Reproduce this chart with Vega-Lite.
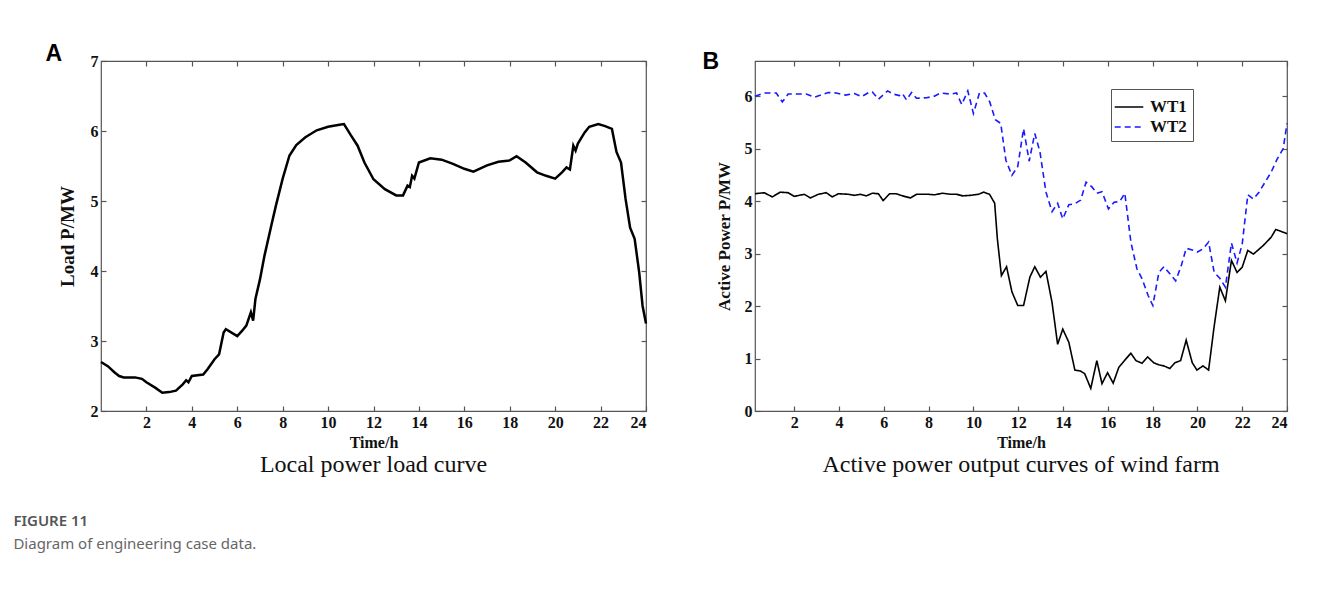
{
  "$schema": "https://vega.github.io/schema/vega-lite/v6.json",
  "background": "white",
  "padding": {"left": 13, "top": 43, "right": 5, "bottom": 5},
  "config": {
    "view": {"stroke": "#555", "strokeWidth": 1.2},
    "axis": {"grid": false, "domain": false, "tickColor": "#555", "tickSize": -5, "tickWidth": 1.2,
      "labelFont": "Liberation Serif", "labelFontSize": 16, "labelFontWeight": "bold", "labelColor": "#111", "labelPadding": 8,
      "titleFont": "Liberation Serif", "titleFontWeight": "bold", "titleColor": "#111"}
  },
  "title": {"text": "FIGURE 11", "subtitle": "Diagram of engineering case data.", "orient": "bottom", "anchor": "start", "frame": "bounds", "dx": -32, "offset": 36,
    "font": "Noto Sans", "fontSize": 15, "fontWeight": 600, "color": "#555", "subtitleFont": "Noto Sans", "subtitleFontSize": 15, "subtitleColor": "#666", "subtitlePadding": 8},
  "spacing": 50,
  "hconcat": [
    {
      "title": {"text": "A", "orient": "top", "anchor": "start", "frame": "bounds", "dx": -12, "offset": -14, "font": "Liberation Sans", "fontSize": 23, "fontWeight": "bold", "color": "#000"},
      "vconcat": [
        {
          "title": {"text": "Local power load curve", "orient": "bottom", "anchor": "middle", "frame": "group", "font": "Liberation Serif", "fontSize": 24, "fontWeight": "normal", "color": "#111", "offset": 3},
          "width": 545,
          "height": 350,
          "data": {"values": [
            {"t": 0, "p": 2.70}, {"t": 0.3, "p": 2.64}, {"t": 0.6, "p": 2.55}, {"t": 0.8, "p": 2.50}, {"t": 1.0, "p": 2.48},
            {"t": 1.5, "p": 2.48}, {"t": 1.8, "p": 2.46}, {"t": 2.0, "p": 2.41}, {"t": 2.4, "p": 2.33}, {"t": 2.7, "p": 2.26},
            {"t": 3.0, "p": 2.27}, {"t": 3.3, "p": 2.29}, {"t": 3.6, "p": 2.38}, {"t": 3.75, "p": 2.44}, {"t": 3.85, "p": 2.41},
            {"t": 4.0, "p": 2.50}, {"t": 4.5, "p": 2.52}, {"t": 4.7, "p": 2.60}, {"t": 5.0, "p": 2.74}, {"t": 5.2, "p": 2.81},
            {"t": 5.4, "p": 3.12}, {"t": 5.5, "p": 3.17}, {"t": 6.0, "p": 3.07}, {"t": 6.2, "p": 3.14}, {"t": 6.4, "p": 3.22},
            {"t": 6.6, "p": 3.41}, {"t": 6.7, "p": 3.29}, {"t": 6.8, "p": 3.60}, {"t": 7.0, "p": 3.88}, {"t": 7.2, "p": 4.22},
            {"t": 7.5, "p": 4.65}, {"t": 7.7, "p": 4.93}, {"t": 8.0, "p": 5.32}, {"t": 8.3, "p": 5.65}, {"t": 8.6, "p": 5.80},
            {"t": 9.0, "p": 5.91}, {"t": 9.5, "p": 6.01}, {"t": 10.0, "p": 6.06}, {"t": 10.5, "p": 6.09}, {"t": 10.7, "p": 6.10},
            {"t": 11.0, "p": 5.94}, {"t": 11.3, "p": 5.79}, {"t": 11.6, "p": 5.55}, {"t": 12.0, "p": 5.31}, {"t": 12.5, "p": 5.17},
            {"t": 13.0, "p": 5.08}, {"t": 13.3, "p": 5.08}, {"t": 13.5, "p": 5.22}, {"t": 13.6, "p": 5.20}, {"t": 13.7, "p": 5.36},
            {"t": 13.8, "p": 5.32}, {"t": 14.0, "p": 5.55}, {"t": 14.5, "p": 5.61}, {"t": 15.0, "p": 5.59}, {"t": 15.5, "p": 5.53},
            {"t": 16.0, "p": 5.46}, {"t": 16.4, "p": 5.42}, {"t": 17.0, "p": 5.51}, {"t": 17.5, "p": 5.56}, {"t": 18.0, "p": 5.58},
            {"t": 18.3, "p": 5.64}, {"t": 18.7, "p": 5.55}, {"t": 19.2, "p": 5.41}, {"t": 19.6, "p": 5.36}, {"t": 20.0, "p": 5.32},
            {"t": 20.3, "p": 5.41}, {"t": 20.5, "p": 5.48}, {"t": 20.65, "p": 5.45}, {"t": 20.8, "p": 5.79}, {"t": 20.9, "p": 5.72},
            {"t": 21.0, "p": 5.82}, {"t": 21.3, "p": 5.98}, {"t": 21.5, "p": 6.06}, {"t": 21.9, "p": 6.10}, {"t": 22.2, "p": 6.07},
            {"t": 22.5, "p": 6.03}, {"t": 22.7, "p": 5.70}, {"t": 22.9, "p": 5.55}, {"t": 23.1, "p": 5.03}, {"t": 23.3, "p": 4.62},
            {"t": 23.5, "p": 4.46}, {"t": 23.7, "p": 3.98}, {"t": 23.85, "p": 3.50}, {"t": 24.0, "p": 3.25}
          ]},
          "layer": [
            {
              "mark": {"type": "line", "color": "#000", "strokeWidth": 2.5},
              "encoding": {
                "x": {"field": "t", "type": "quantitative", "scale": {"domain": [0, 24], "nice": false},
                  "axis": {"values": [2, 4, 6, 8, 10, 12, 14, 16, 18, 20, 22, 24], "title": "Time/h", "titleFontSize": 16, "titlePadding": 4}},
                "y": {"field": "p", "type": "quantitative", "scale": {"domain": [2, 7], "nice": false},
                  "axis": {"values": [2, 3, 4, 5, 6, 7], "title": "Load P/MW", "titleFontSize": 19, "titlePadding": 13}}
              }
            },
            {
              "mark": {"type": "line", "opacity": 0},
              "encoding": {
                "x": {"field": "t", "type": "quantitative", "scale": {"domain": [0, 24], "nice": false},
                  "axis": {"orient": "top", "values": [2, 4, 6, 8, 10, 12, 14, 16, 18, 20, 22, 24], "labels": false, "title": null}},
                "y": {"field": "p", "type": "quantitative", "scale": {"domain": [2, 7], "nice": false},
                  "axis": {"orient": "right", "values": [2, 3, 4, 5, 6, 7], "labels": false, "title": null}}
              }
            }
          ],
          "resolve": {"axis": {"x": "independent", "y": "independent"}}
        }
      ]
    },
    {
      "title": {"text": "B", "orient": "top", "anchor": "start", "frame": "bounds", "dx": -12, "offset": -14, "font": "Liberation Sans", "fontSize": 23, "fontWeight": "bold", "color": "#000"},
      "vconcat": [
        {
          "title": {"text": "Active power output curves of wind farm", "orient": "bottom", "anchor": "middle", "frame": "group", "font": "Liberation Serif", "fontSize": 24, "fontWeight": "normal", "color": "#111", "offset": 3},
          "width": 532,
          "height": 350,
          "data": {"values": [
            {"s": "WT1", "t": 0.25, "p": 4.14}, {"s": "WT1", "t": 0.66, "p": 4.16}, {"s": "WT1", "t": 1.02, "p": 4.08}, {"s": "WT1", "t": 1.38, "p": 4.17},
            {"s": "WT1", "t": 1.73, "p": 4.16}, {"s": "WT1", "t": 2.0, "p": 4.09}, {"s": "WT1", "t": 2.45, "p": 4.13}, {"s": "WT1", "t": 2.72, "p": 4.06},
            {"s": "WT1", "t": 3.08, "p": 4.13}, {"s": "WT1", "t": 3.43, "p": 4.16}, {"s": "WT1", "t": 3.7, "p": 4.08}, {"s": "WT1", "t": 3.97, "p": 4.14},
            {"s": "WT1", "t": 4.42, "p": 4.13}, {"s": "WT1", "t": 4.69, "p": 4.11}, {"s": "WT1", "t": 4.95, "p": 4.13}, {"s": "WT1", "t": 5.22, "p": 4.10},
            {"s": "WT1", "t": 5.49, "p": 4.15}, {"s": "WT1", "t": 5.76, "p": 4.14}, {"s": "WT1", "t": 5.97, "p": 4.01}, {"s": "WT1", "t": 6.26, "p": 4.14},
            {"s": "WT1", "t": 6.56, "p": 4.14}, {"s": "WT1", "t": 6.83, "p": 4.10}, {"s": "WT1", "t": 7.19, "p": 4.06}, {"s": "WT1", "t": 7.46, "p": 4.13},
            {"s": "WT1", "t": 8.0, "p": 4.13}, {"s": "WT1", "t": 8.26, "p": 4.12}, {"s": "WT1", "t": 8.62, "p": 4.15}, {"s": "WT1", "t": 8.98, "p": 4.13},
            {"s": "WT1", "t": 9.25, "p": 4.13}, {"s": "WT1", "t": 9.52, "p": 4.10}, {"s": "WT1", "t": 9.87, "p": 4.11}, {"s": "WT1", "t": 10.23, "p": 4.13},
            {"s": "WT1", "t": 10.46, "p": 4.17}, {"s": "WT1", "t": 10.72, "p": 4.13}, {"s": "WT1", "t": 10.95, "p": 3.96}, {"s": "WT1", "t": 11.07, "p": 3.28},
            {"s": "WT1", "t": 11.25, "p": 2.58}, {"s": "WT1", "t": 11.48, "p": 2.75}, {"s": "WT1", "t": 11.72, "p": 2.27}, {"s": "WT1", "t": 11.98, "p": 2.01},
            {"s": "WT1", "t": 12.24, "p": 2.01}, {"s": "WT1", "t": 12.52, "p": 2.55}, {"s": "WT1", "t": 12.74, "p": 2.75}, {"s": "WT1", "t": 12.99, "p": 2.55},
            {"s": "WT1", "t": 13.24, "p": 2.66}, {"s": "WT1", "t": 13.51, "p": 2.07}, {"s": "WT1", "t": 13.76, "p": 1.27}, {"s": "WT1", "t": 13.99, "p": 1.56},
            {"s": "WT1", "t": 14.26, "p": 1.31}, {"s": "WT1", "t": 14.53, "p": 0.78}, {"s": "WT1", "t": 14.79, "p": 0.76}, {"s": "WT1", "t": 14.97, "p": 0.71},
            {"s": "WT1", "t": 15.24, "p": 0.43}, {"s": "WT1", "t": 15.51, "p": 0.96}, {"s": "WT1", "t": 15.74, "p": 0.52}, {"s": "WT1", "t": 15.99, "p": 0.73},
            {"s": "WT1", "t": 16.24, "p": 0.53}, {"s": "WT1", "t": 16.49, "p": 0.83}, {"s": "WT1", "t": 16.76, "p": 0.97}, {"s": "WT1", "t": 17.03, "p": 1.10},
            {"s": "WT1", "t": 17.26, "p": 0.96}, {"s": "WT1", "t": 17.53, "p": 0.91}, {"s": "WT1", "t": 17.78, "p": 1.03}, {"s": "WT1", "t": 18.05, "p": 0.92},
            {"s": "WT1", "t": 18.28, "p": 0.88}, {"s": "WT1", "t": 18.5, "p": 0.86}, {"s": "WT1", "t": 18.77, "p": 0.81}, {"s": "WT1", "t": 19.0, "p": 0.92},
            {"s": "WT1", "t": 19.25, "p": 0.96}, {"s": "WT1", "t": 19.5, "p": 1.35}, {"s": "WT1", "t": 19.77, "p": 0.92}, {"s": "WT1", "t": 19.98, "p": 0.78},
            {"s": "WT1", "t": 20.25, "p": 0.86}, {"s": "WT1", "t": 20.5, "p": 0.78}, {"s": "WT1", "t": 20.75, "p": 1.62}, {"s": "WT1", "t": 21.0, "p": 2.36},
            {"s": "WT1", "t": 21.25, "p": 2.10}, {"s": "WT1", "t": 21.52, "p": 2.87}, {"s": "WT1", "t": 21.77, "p": 2.64}, {"s": "WT1", "t": 22.0, "p": 2.74},
            {"s": "WT1", "t": 22.25, "p": 3.06}, {"s": "WT1", "t": 22.5, "p": 2.99}, {"s": "WT1", "t": 22.93, "p": 3.15}, {"s": "WT1", "t": 23.29, "p": 3.31},
            {"s": "WT1", "t": 23.5, "p": 3.46}, {"s": "WT1", "t": 24.0, "p": 3.38},
            {"s": "WT2", "t": 0.25, "p": 6.00}, {"s": "WT2", "t": 0.66, "p": 6.06}, {"s": "WT2", "t": 1.02, "p": 6.06}, {"s": "WT2", "t": 1.2, "p": 6.06},
            {"s": "WT2", "t": 1.47, "p": 5.89}, {"s": "WT2", "t": 1.73, "p": 6.04}, {"s": "WT2", "t": 2.18, "p": 6.04}, {"s": "WT2", "t": 2.54, "p": 6.04},
            {"s": "WT2", "t": 2.9, "p": 5.98}, {"s": "WT2", "t": 3.52, "p": 6.07}, {"s": "WT2", "t": 3.88, "p": 6.06}, {"s": "WT2", "t": 4.29, "p": 6.02},
            {"s": "WT2", "t": 4.69, "p": 6.05}, {"s": "WT2", "t": 5.01, "p": 5.99}, {"s": "WT2", "t": 5.37, "p": 6.08}, {"s": "WT2", "t": 5.49, "p": 6.08},
            {"s": "WT2", "t": 5.76, "p": 5.94}, {"s": "WT2", "t": 6.17, "p": 6.10}, {"s": "WT2", "t": 6.42, "p": 6.04}, {"s": "WT2", "t": 6.69, "p": 6.01},
            {"s": "WT2", "t": 6.83, "p": 6.05}, {"s": "WT2", "t": 7.01, "p": 5.93}, {"s": "WT2", "t": 7.24, "p": 6.07}, {"s": "WT2", "t": 7.46, "p": 5.96},
            {"s": "WT2", "t": 7.91, "p": 5.97}, {"s": "WT2", "t": 8.26, "p": 6.00}, {"s": "WT2", "t": 8.53, "p": 6.06}, {"s": "WT2", "t": 8.98, "p": 6.04},
            {"s": "WT2", "t": 9.25, "p": 6.06}, {"s": "WT2", "t": 9.48, "p": 5.84}, {"s": "WT2", "t": 9.75, "p": 6.10}, {"s": "WT2", "t": 10.0, "p": 5.67},
            {"s": "WT2", "t": 10.27, "p": 6.06}, {"s": "WT2", "t": 10.5, "p": 6.06}, {"s": "WT2", "t": 10.73, "p": 5.89}, {"s": "WT2", "t": 10.98, "p": 5.55},
            {"s": "WT2", "t": 11.22, "p": 5.48}, {"s": "WT2", "t": 11.45, "p": 4.78}, {"s": "WT2", "t": 11.72, "p": 4.49}, {"s": "WT2", "t": 11.98, "p": 4.66},
            {"s": "WT2", "t": 12.24, "p": 5.38}, {"s": "WT2", "t": 12.49, "p": 4.76}, {"s": "WT2", "t": 12.74, "p": 5.29}, {"s": "WT2", "t": 12.97, "p": 4.94},
            {"s": "WT2", "t": 13.24, "p": 4.17}, {"s": "WT2", "t": 13.51, "p": 3.80}, {"s": "WT2", "t": 13.76, "p": 3.96}, {"s": "WT2", "t": 13.99, "p": 3.66},
            {"s": "WT2", "t": 14.26, "p": 3.93}, {"s": "WT2", "t": 14.53, "p": 3.95}, {"s": "WT2", "t": 14.79, "p": 4.02}, {"s": "WT2", "t": 15.03, "p": 4.36},
            {"s": "WT2", "t": 15.29, "p": 4.27}, {"s": "WT2", "t": 15.51, "p": 4.15}, {"s": "WT2", "t": 15.74, "p": 4.18}, {"s": "WT2", "t": 16.03, "p": 3.85},
            {"s": "WT2", "t": 16.28, "p": 3.98}, {"s": "WT2", "t": 16.53, "p": 3.99}, {"s": "WT2", "t": 16.76, "p": 4.15}, {"s": "WT2", "t": 17.03, "p": 3.22},
            {"s": "WT2", "t": 17.3, "p": 2.71}, {"s": "WT2", "t": 17.53, "p": 2.52}, {"s": "WT2", "t": 17.8, "p": 2.20}, {"s": "WT2", "t": 18.01, "p": 2.01},
            {"s": "WT2", "t": 18.28, "p": 2.64}, {"s": "WT2", "t": 18.51, "p": 2.75}, {"s": "WT2", "t": 18.78, "p": 2.61}, {"s": "WT2", "t": 19.03, "p": 2.48},
            {"s": "WT2", "t": 19.28, "p": 2.77}, {"s": "WT2", "t": 19.5, "p": 3.10}, {"s": "WT2", "t": 19.77, "p": 3.07}, {"s": "WT2", "t": 20.0, "p": 3.03},
            {"s": "WT2", "t": 20.25, "p": 3.09}, {"s": "WT2", "t": 20.5, "p": 3.22}, {"s": "WT2", "t": 20.75, "p": 2.64}, {"s": "WT2", "t": 21.0, "p": 2.53},
            {"s": "WT2", "t": 21.25, "p": 2.36}, {"s": "WT2", "t": 21.52, "p": 3.20}, {"s": "WT2", "t": 21.77, "p": 2.82}, {"s": "WT2", "t": 22.0, "p": 3.18},
            {"s": "WT2", "t": 22.25, "p": 4.12}, {"s": "WT2", "t": 22.5, "p": 4.04}, {"s": "WT2", "t": 22.75, "p": 4.17}, {"s": "WT2", "t": 23.02, "p": 4.36},
            {"s": "WT2", "t": 23.29, "p": 4.55}, {"s": "WT2", "t": 23.56, "p": 4.80}, {"s": "WT2", "t": 23.83, "p": 5.00}, {"s": "WT2", "t": 24.0, "p": 5.48}
          ]},
          "layer": [
            {
              "mark": {"type": "line", "strokeWidth": 1.6},
              "encoding": {
                "x": {"field": "t", "type": "quantitative", "scale": {"domain": [0.25, 24], "nice": false},
                  "axis": {"values": [2, 4, 6, 8, 10, 12, 14, 16, 18, 20, 22, 24], "title": "Time/h", "titleFontSize": 16, "titlePadding": 4}},
                "y": {"field": "p", "type": "quantitative", "scale": {"domain": [0, 6.67], "nice": false},
                  "axis": {"values": [0, 1, 2, 3, 4, 5, 6], "title": "Active Power P/MW", "titleFontSize": 17, "titlePadding": 11}},
                "color": {"field": "s", "type": "nominal", "scale": {"domain": ["WT1", "WT2"], "range": ["#000000", "#1a1aff"]},
                  "legend": {"title": null, "orient": "none", "legendX": 1010, "legendY": 28, "strokeColor": "#555", "fillColor": "#fff", "padding": 6,
                    "symbolType": "M-1.3,0H1.3", "symbolSize": 484, "symbolStrokeWidth": 1.6, "labelFont": "Liberation Serif", "labelFontSize": 17, "labelFontWeight": "bold", "labelColor": "#111", "rowPadding": 0, "labelOffset": 9}},
                "strokeDash": {"field": "s", "type": "nominal", "scale": {"domain": ["WT1", "WT2"], "range": [[1, 0], [6, 4]]}, "legend": null}
              }
            },
            {
              "mark": {"type": "line", "opacity": 0},
              "encoding": {
                "x": {"field": "t", "type": "quantitative", "scale": {"domain": [0.25, 24], "nice": false},
                  "axis": {"orient": "top", "values": [2, 4, 6, 8, 10, 12, 14, 16, 18, 20, 22, 24], "labels": false, "title": null}},
                "y": {"field": "p", "type": "quantitative", "scale": {"domain": [0, 6.67], "nice": false},
                  "axis": {"orient": "right", "values": [0, 1, 2, 3, 4, 5, 6], "labels": false, "title": null}},
                "detail": {"field": "s"}
              }
            }
          ],
          "resolve": {"axis": {"x": "independent", "y": "independent"}}
        }
      ]
    }
  ]
}
